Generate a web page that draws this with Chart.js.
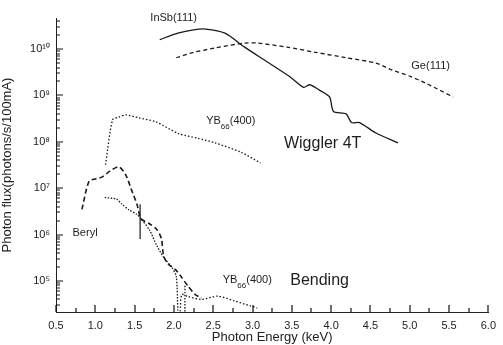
<!DOCTYPE html>
<html>
<head>
<meta charset="utf-8">
<script src="https://cdn.jsdelivr.net/npm/chart.js@4.4.1/dist/chart.umd.min.js"></script>
<style>
  html, body { margin: 0; padding: 0; background: #fff; }
  #wrap { width: 503px; height: 345px; }
</style>
</head>
<body>
<div id="wrap"><canvas id="fluxChart" width="503" height="345"></canvas></div>
<script>
// values: energy in keV, flux in photons/s/100mA
const insbX = [1.82, 2.05, 2.25, 2.40, 2.65, 2.90, 3.15, 3.48, 3.65, 3.73, 3.85, 3.98, 4.03, 4.19, 4.26, 4.36, 4.57, 4.85];
const insbY = [1.6e10, 2.2e10, 2.6e10, 2.7e10, 2.2e10, 1.1e10, 5.8e9, 2.5e9, 1.5e9, 1.7e9, 1.3e9, 9.3e8, 4.5e8, 4.0e8, 2.6e8, 2.6e8, 1.55e8, 9.5e7];

const geX = [2.03, 2.25, 2.52, 2.90, 3.06, 3.44, 3.80, 4.19, 4.57, 4.78, 5.00, 5.20, 5.55];
const geY = [6.5e9, 8.5e9, 1.05e10, 1.35e10, 1.35e10, 1.1e10, 8.5e9, 6.5e9, 5.0e9, 3.5e9, 2.6e9, 1.85e9, 9.3e8];

const ybWigX = [1.13, 1.22, 1.30, 1.39, 1.55, 1.77, 2.06, 2.30, 2.52, 2.85, 3.10];
const ybWigY = [3.2e7, 3.0e8, 3.4e8, 3.8e8, 3.3e8, 2.7e8, 1.5e8, 1.2e8, 9.5e7, 6.0e7, 3.5e7];

const berylX = [0.83, 0.92, 1.01, 1.09, 1.18, 1.30, 1.39, 1.46, 1.53, 1.58, 1.68, 1.78, 1.84, 1.87, 1.93, 2.02, 2.09, 2.18, 2.27, 2.35];
const berylY = [3.5e6, 1.4e7, 1.6e7, 1.75e7, 2.3e7, 2.9e7, 1.9e7, 9.2e6, 4.5e6, 2.2e6, 1.75e6, 1.3e6, 8.3e5, 3.4e5, 2.3e5, 1.75e5, 1.25e5, 7.7e4, 5.1e4, 4.3e4];

const bendDotX = [1.12, 1.27, 1.34, 1.43, 1.53, 1.59, 1.69, 1.78, 1.87, 1.97, 2.03, 2.05];
const bendDotY = [6.3e6, 5.8e6, 4.5e6, 3.4e6, 2.7e6, 2.1e6, 1.25e6, 5.9e5, 3.2e5, 2.0e5, 1.25e5, 2.2e4];

const ybBendX = [2.08, 2.10, 2.18, 2.35, 2.56, 2.77, 2.97, 3.06];
const ybBendY = [2.2e4, 5.1e4, 4.6e4, 4.0e4, 4.7e4, 3.7e4, 2.9e4, 2.6e4];

// absorption edge markers: vertical strokes on the bending curves
const edgeX = [1.57, 1.57];
const edgeY = [8.0e5, 4.5e6];
const edgeDropX = [2.14, 2.14];
const edgeDropY = [2.2e4, 8.0e4];

const xTicks = [0.5, 1.0, 1.5, 2.0, 2.5, 3.0, 3.5, 4.0, 4.5, 5.0, 5.5, 6.0];
const yDecades = [5, 6, 7, 8, 9, 10];
const supDigits = { '0': '\u2070', '1': '\u00b9', '5': '\u2075', '6': '\u2076', '7': '\u2077', '8': '\u2078', '9': '\u2079' };

function toPoints(xs, ys) {
    return xs.map((x, i) => ({ x: x, y: ys[i] }));
}

function lineSet(label, xs, ys, dash, width) {
    return {
        label: label,
        data: toPoints(xs, ys),
        borderColor: '#1a1a1a',
        borderWidth: width,
        borderDash: dash,
        pointRadius: 0,
        tension: 0.25,
        fill: false
    };
}

// inward tick marks, like the original plot
const tickMarks = {
    id: 'tickMarks',
    afterDraw(chart) {
        const ctx = chart.ctx;
        const xs = chart.scales.x, ys = chart.scales.y;
        const area = chart.chartArea;
        ctx.save();
        ctx.strokeStyle = '#111';
        ctx.lineWidth = 1.2;
        ctx.setLineDash([]);
        ctx.beginPath();
        for (let v = 0.5; v <= 6.001; v += 0.25) {
            const px = Math.round(xs.getPixelForValue(v));
            const major = Math.abs(v * 2 - Math.round(v * 2)) < 1e-6;
            ctx.moveTo(px, area.bottom);
            ctx.lineTo(px, area.bottom - (major ? 7 : 4));
        }
        for (let n = 4; n <= 10; n++) {
            for (let m = 1; m <= 9; m++) {
                const v = m * Math.pow(10, n);
                if (v < ys.min || v > ys.max) continue;
                const py = Math.round(ys.getPixelForValue(v));
                ctx.moveTo(area.left, py);
                ctx.lineTo(area.left + (m === 1 ? 7 : 4), py);
            }
        }
        ctx.stroke();
        ctx.restore();
    }
};

// curve annotations placed in data coordinates
const notes = [
    { text: 'InSb(111)', x: 1.70, y: Math.pow(10, 10.68), size: 11 },
    { text: 'Ge(111)', x: 5.02, y: Math.pow(10, 9.63), size: 11 },
    { text: 'YB', sub: '66', tail: '(400)', x: 2.41, y: Math.pow(10, 8.45), size: 11 },
    { text: 'Wiggler 4T', x: 3.40, y: Math.pow(10, 7.97), size: 16 },
    { text: 'Beryl', x: 0.71, y: Math.pow(10, 6.04), size: 11 },
    { text: 'YB', sub: '66', tail: '(400)', x: 2.62, y: Math.pow(10, 5.03), size: 11 },
    { text: 'Bending', x: 3.48, y: Math.pow(10, 5.0), size: 16 }
];

const noteLabels = {
    id: 'noteLabels',
    afterDraw(chart) {
        const ctx = chart.ctx;
        const xs = chart.scales.x, ys = chart.scales.y;
        ctx.save();
        ctx.fillStyle = '#1e1e1e';
        ctx.textBaseline = 'middle';
        ctx.textAlign = 'left';
        notes.forEach(n => {
            let px = xs.getPixelForValue(n.x);
            const py = ys.getPixelForValue(n.y);
            ctx.font = n.size + 'px "Liberation Sans", Arial, sans-serif';
            ctx.fillText(n.text, px, py);
            px += ctx.measureText(n.text).width;
            if (n.sub) {
                ctx.font = '8px "Liberation Sans", Arial, sans-serif';
                ctx.fillText(n.sub, px, py + 6);
                px += ctx.measureText(n.sub).width;
                ctx.font = n.size + 'px "Liberation Sans", Arial, sans-serif';
                ctx.fillText(n.tail, px, py);
            }
        });
        ctx.restore();
    }
};

new Chart(document.getElementById('fluxChart'), {
    type: 'line',
    data: {
        datasets: [
            lineSet('InSb(111)', insbX, insbY, [], 1.3),
            lineSet('Ge(111)', geX, geY, [4, 3], 1.3),
            lineSet('YB66(400) wiggler', ybWigX, ybWigY, [1.5, 2], 1.3),
            lineSet('Beryl', berylX, berylY, [5, 3], 1.6),
            lineSet('Bending dotted', bendDotX, bendDotY, [1.5, 1.5], 1.3),
            lineSet('YB66(400) bending', ybBendX, ybBendY, [1.5, 2], 1.3),
            lineSet('edge', edgeX, edgeY, [], 1.2),
            lineSet('edge drop', edgeDropX, edgeDropY, [1.5, 1.5], 1.3)
        ]
    },
    options: {
        responsive: false,
        animation: false,
        layout: { padding: { top: 18, right: 9, left: 0, bottom: 0 } },
        plugins: {
            legend: { display: false },
            tooltip: { enabled: false }
        },
        scales: {
            x: {
                type: 'linear',
                min: 0.5,
                max: 6.0,
                afterBuildTicks: s => { s.ticks = xTicks.map(v => ({ value: v })); },
                afterFit: s => { s.height = 33; },
                grid: { drawOnChartArea: false, drawTicks: false },
                border: { color: '#222', width: 1 },
                ticks: {
                    padding: 7,
                    color: '#222',
                    font: { family: '"Liberation Sans", Arial, sans-serif', size: 11 },
                    callback: v => v.toFixed(1)
                },
                title: {
                    display: true,
                    text: 'Photon Energy (keV)',
                    color: '#222',
                    padding: { top: 0, bottom: 0 },
                    font: { family: '"Liberation Sans", Arial, sans-serif', size: 13 }
                }
            },
            y: {
                type: 'logarithmic',
                min: Math.pow(10, 4.33),
                max: Math.pow(10, 10.67),
                afterBuildTicks: s => { s.ticks = yDecades.map(n => ({ value: Math.pow(10, n) })); },
                afterFit: s => { s.width = 56; },
                grid: { drawOnChartArea: false, drawTicks: false },
                border: { color: '#222', width: 1 },
                ticks: {
                    padding: 6,
                    color: '#222',
                    font: { family: '"Liberation Sans", Arial, sans-serif', size: 11 },
                    callback: v => '10' + String(Math.round(Math.log10(v))).split('').map(d => supDigits[d]).join('')
                },
                title: {
                    display: true,
                    text: 'Photon flux(photons/s/100mA)',
                    color: '#222',
                    padding: { top: 0, bottom: 2 },
                    font: { family: '"Liberation Sans", Arial, sans-serif', size: 13 }
                }
            }
        }
    },
    plugins: [tickMarks, noteLabels]
});
</script>
</body>
</html>
